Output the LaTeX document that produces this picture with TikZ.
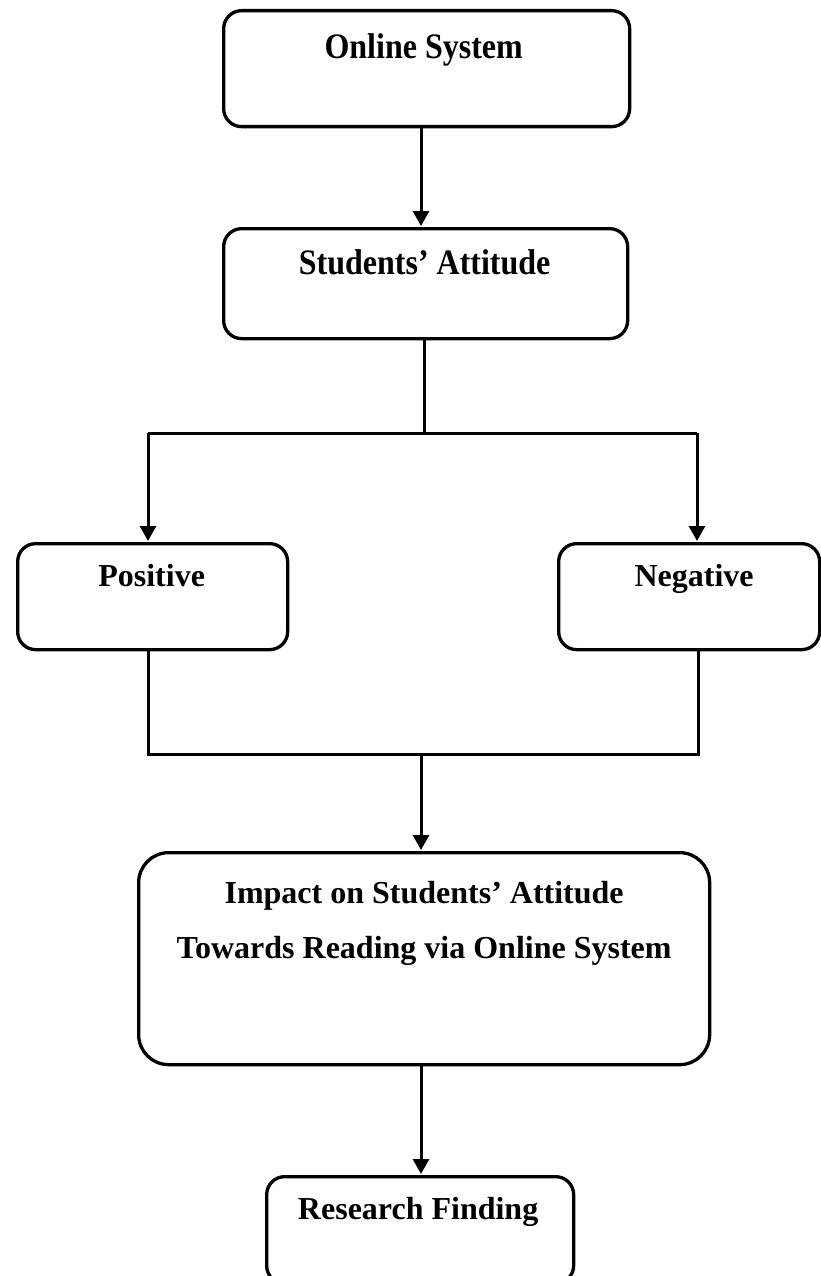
\documentclass[tikz,border=0pt]{standalone}
\usepackage{fontspec}
\usepackage{graphicx}
\setmainfont{Liberation Serif}
\usetikzlibrary{arrows.meta}
\newcommand\tallertext[1]{\scalebox{1}[1.12]{#1}}
\tikzset{
  box/.style={draw=black, line width=3.3pt, rounded corners=18pt, fill=none, inner sep=0pt},
  txt/.style={font=\fontsize{32}{55}\selectfont\bfseries, align=center, inner sep=0pt, anchor=center},
  oneline/.style={txt, text height=22pt, text depth=7pt},
  conn/.style={draw=black, line width=3pt},
  arr/.style={conn, -{Triangle[length=15pt,width=16pt]}, shorten >=1pt}
}
\begin{document}
\begin{tikzpicture}[x=1pt,y=-1pt]
\useasboundingbox (0,0) rectangle (821,1276);
\clip (0,0) rectangle (821,1276);
% boxes
\node[box, minimum width=406pt, minimum height=116pt, anchor=north west,
  label={[oneline, yshift=-42pt, xshift=-3pt]north:\tallertext{Online System}}] (b1) at (222,9) {};
\node[box, minimum width=404pt, minimum height=110pt, anchor=north west,
  label={[oneline, yshift=-40pt, xshift=-1pt]north:\tallertext{Students’ Attitude}}] (b2) at (222,227) {};
\node[box, minimum width=270pt, minimum height=106pt, anchor=north west,
  label={[oneline, yshift=-37pt, xshift=-1pt]north:Positive}] (pos) at (16,542) {};
\node[box, minimum width=261pt, minimum height=106pt, anchor=north west,
  label={[oneline, yshift=-37pt, xshift=5pt]north:Negative}] (neg) at (557,542) {};
\node[box, rounded corners=30pt, minimum width=571pt, minimum height=212pt, anchor=north west,
  label={[txt, yshift=-72pt]north:Impact on Students’ Attitude\\Towards Reading via Online System}] (imp) at (137,851) {};
\node[box, minimum width=307pt, minimum height=107pt, anchor=north west,
  label={[oneline, yshift=-37pt, xshift=-2pt]north:Research Finding}] (rf) at (265,1175) {};
% connectors
\coordinate (a1) at (421,0);
\coordinate (t1) at (424,433);
\coordinate (pl) at (148,433);
\coordinate (pr) at (697,433);
\coordinate (ql) at (148,754);
\coordinate (qr) at (698,754);
\coordinate (qm) at (421,754);
\draw[arr] (a1 |- b1.south) -- (a1 |- b2.north);
\draw[conn] (t1 |- b2.south) -- (t1);
\draw[conn] (pl) -- (pr);
\draw[arr] (pl) -- (pl |- pos.north);
\draw[arr] (pr) -- (pr |- neg.north);
\draw[conn] (ql |- pos.south) -- (ql) -- (qr) -- (qr |- neg.south);
\draw[arr] (qm) -- (qm |- imp.north);
\draw[arr] (qm |- imp.south) -- (qm |- rf.north);
\end{tikzpicture}
\end{document}
